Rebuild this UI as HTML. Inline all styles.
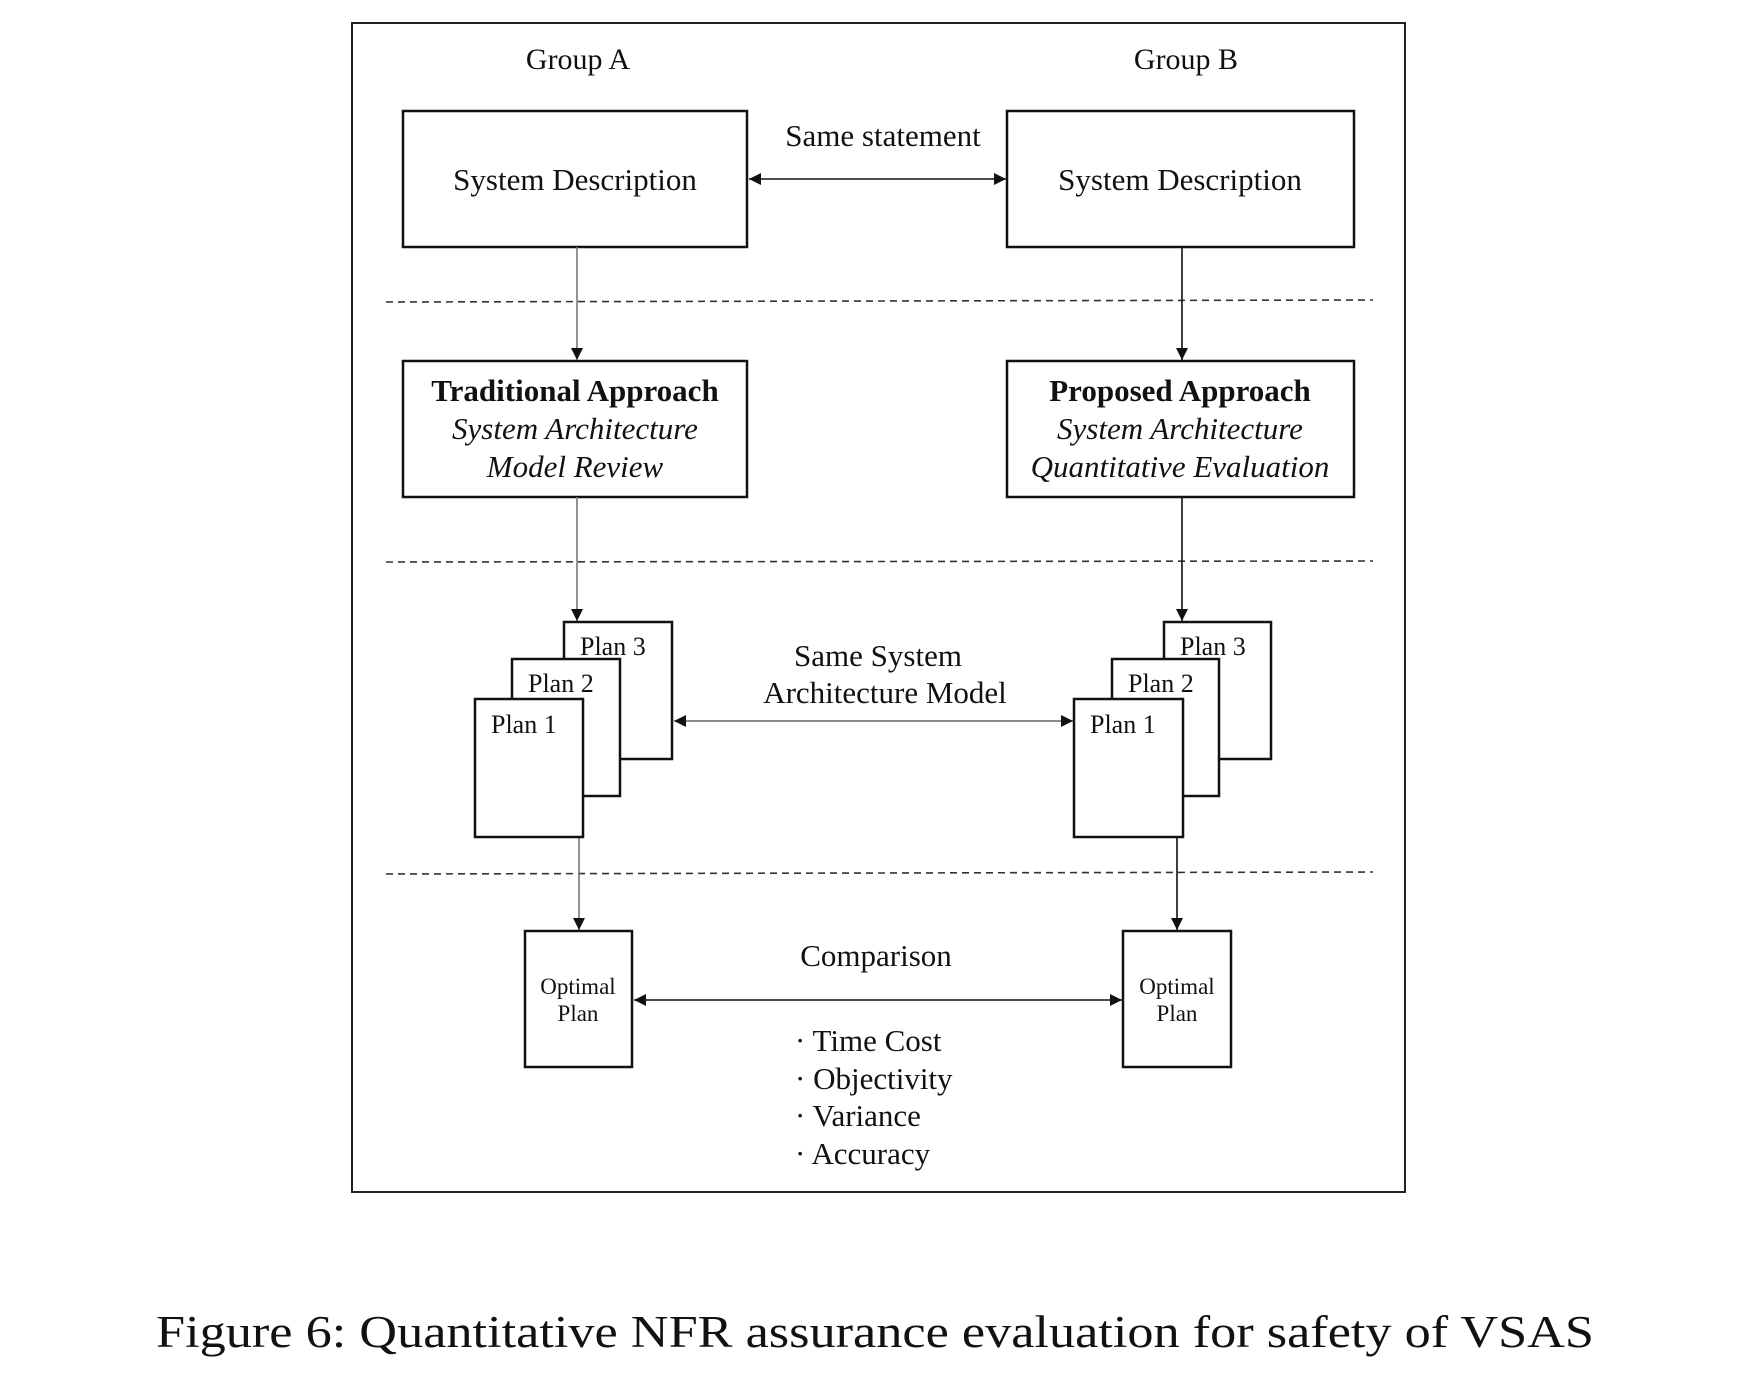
<!DOCTYPE html>
<html><head><meta charset="utf-8"><style>
html,body{margin:0;padding:0;background:#fff}
svg{display:block}
text{font-family:"Liberation Serif",serif;fill:#111}
</style></head><body>
<svg width="1764" height="1386" viewBox="0 0 1764 1386" xmlns="http://www.w3.org/2000/svg">
<defs>
<marker id="ah" viewBox="0 0 10 10" refX="10" refY="5" markerWidth="12" markerHeight="12" markerUnits="userSpaceOnUse" orient="auto-start-reverse"><path d="M0,0 L10,5 L0,10 z" fill="#111"/></marker>
</defs>
<rect x="352" y="23" width="1053" height="1169" fill="none" stroke="#222" stroke-width="2"/>
<g font-size="30" text-anchor="middle">
<text x="578" y="69">Group A</text>
<text x="1186" y="69">Group B</text>
</g>
<g fill="none" stroke="#111" stroke-width="2.5">
<rect x="403" y="111" width="344" height="136"/>
<rect x="1007" y="111" width="347" height="136"/>
<rect x="403" y="361" width="344" height="136"/>
<rect x="1007" y="361" width="347" height="136"/>
</g>
<g font-size="31" text-anchor="middle">
<text x="575" y="190">System Description</text>
<text x="1180" y="190">System Description</text>
<text x="883" y="146">Same statement</text>
<text x="575" y="401" font-weight="bold">Traditional Approach</text>
<text x="575" y="439" font-style="italic">System Architecture</text>
<text x="575" y="477" font-style="italic">Model Review</text>
<text x="1180" y="401" font-weight="bold">Proposed Approach</text>
<text x="1180" y="439" font-style="italic">System Architecture</text>
<text x="1180" y="477" font-style="italic">Quantitative Evaluation</text>
</g>
<g stroke="#333" stroke-width="1.6" stroke-dasharray="7,5">
<line x1="386" y1="302" x2="1373" y2="300"/>
<line x1="386" y1="562" x2="1373" y2="561"/>
<line x1="386" y1="874" x2="1373" y2="872"/>
</g>
<g stroke="#111" stroke-width="1.6" fill="none">
<line x1="749" y1="179" x2="1006" y2="179" marker-start="url(#ah)" marker-end="url(#ah)"/>
<line x1="577" y1="247" x2="577" y2="360" stroke="#777" marker-end="url(#ah)"/>
<line x1="1182" y1="247" x2="1182" y2="360" marker-end="url(#ah)"/>
<line x1="577" y1="497" x2="577" y2="621" stroke="#777" marker-end="url(#ah)"/>
<line x1="1182" y1="497" x2="1182" y2="621" marker-end="url(#ah)"/>
<line x1="674" y1="721" x2="1073" y2="721" stroke="#666" marker-start="url(#ah)" marker-end="url(#ah)"/>
<line x1="579" y1="837" x2="579" y2="930" stroke="#777" marker-end="url(#ah)"/>
<line x1="1177" y1="837" x2="1177" y2="930" marker-end="url(#ah)"/>
<line x1="634" y1="1000" x2="1122" y2="1000" marker-start="url(#ah)" marker-end="url(#ah)"/>
</g>
<g fill="#fff" stroke="#111" stroke-width="2.5">
<rect x="564" y="622" width="108" height="137"/>
<rect x="512" y="659" width="108" height="137"/>
<rect x="475" y="699" width="108" height="138"/>
<rect x="1164" y="622" width="107" height="137"/>
<rect x="1112" y="659" width="107" height="137"/>
<rect x="1074" y="699" width="109" height="138"/>
<rect x="525" y="931" width="107" height="136"/>
<rect x="1123" y="931" width="108" height="136"/>
</g>
<g font-size="26">
<text x="580" y="655">Plan 3</text>
<text x="528" y="692">Plan 2</text>
<text x="491" y="733">Plan 1</text>
<text x="1180" y="655">Plan 3</text>
<text x="1128" y="692">Plan 2</text>
<text x="1090" y="733">Plan 1</text>
</g>
<g font-size="23" text-anchor="middle">
<text x="578" y="994">Optimal</text>
<text x="578" y="1021">Plan</text>
<text x="1177" y="994">Optimal</text>
<text x="1177" y="1021">Plan</text>
</g>
<g font-size="31" text-anchor="middle">
<text x="878" y="666">Same System</text>
<text x="885" y="703">Architecture Model</text>
<text x="876" y="966">Comparison</text>
</g>
<g font-size="31">
<text x="795" y="1051">· Time Cost</text>
<text x="795" y="1089">· Objectivity</text>
<text x="795" y="1126">· Variance</text>
<text x="795" y="1164">· Accuracy</text>
</g>
<text x="156" y="1347" font-size="45" textLength="1438" lengthAdjust="spacingAndGlyphs">Figure 6: Quantitative NFR assurance evaluation for safety of VSAS</text>
</svg>
</body></html>
